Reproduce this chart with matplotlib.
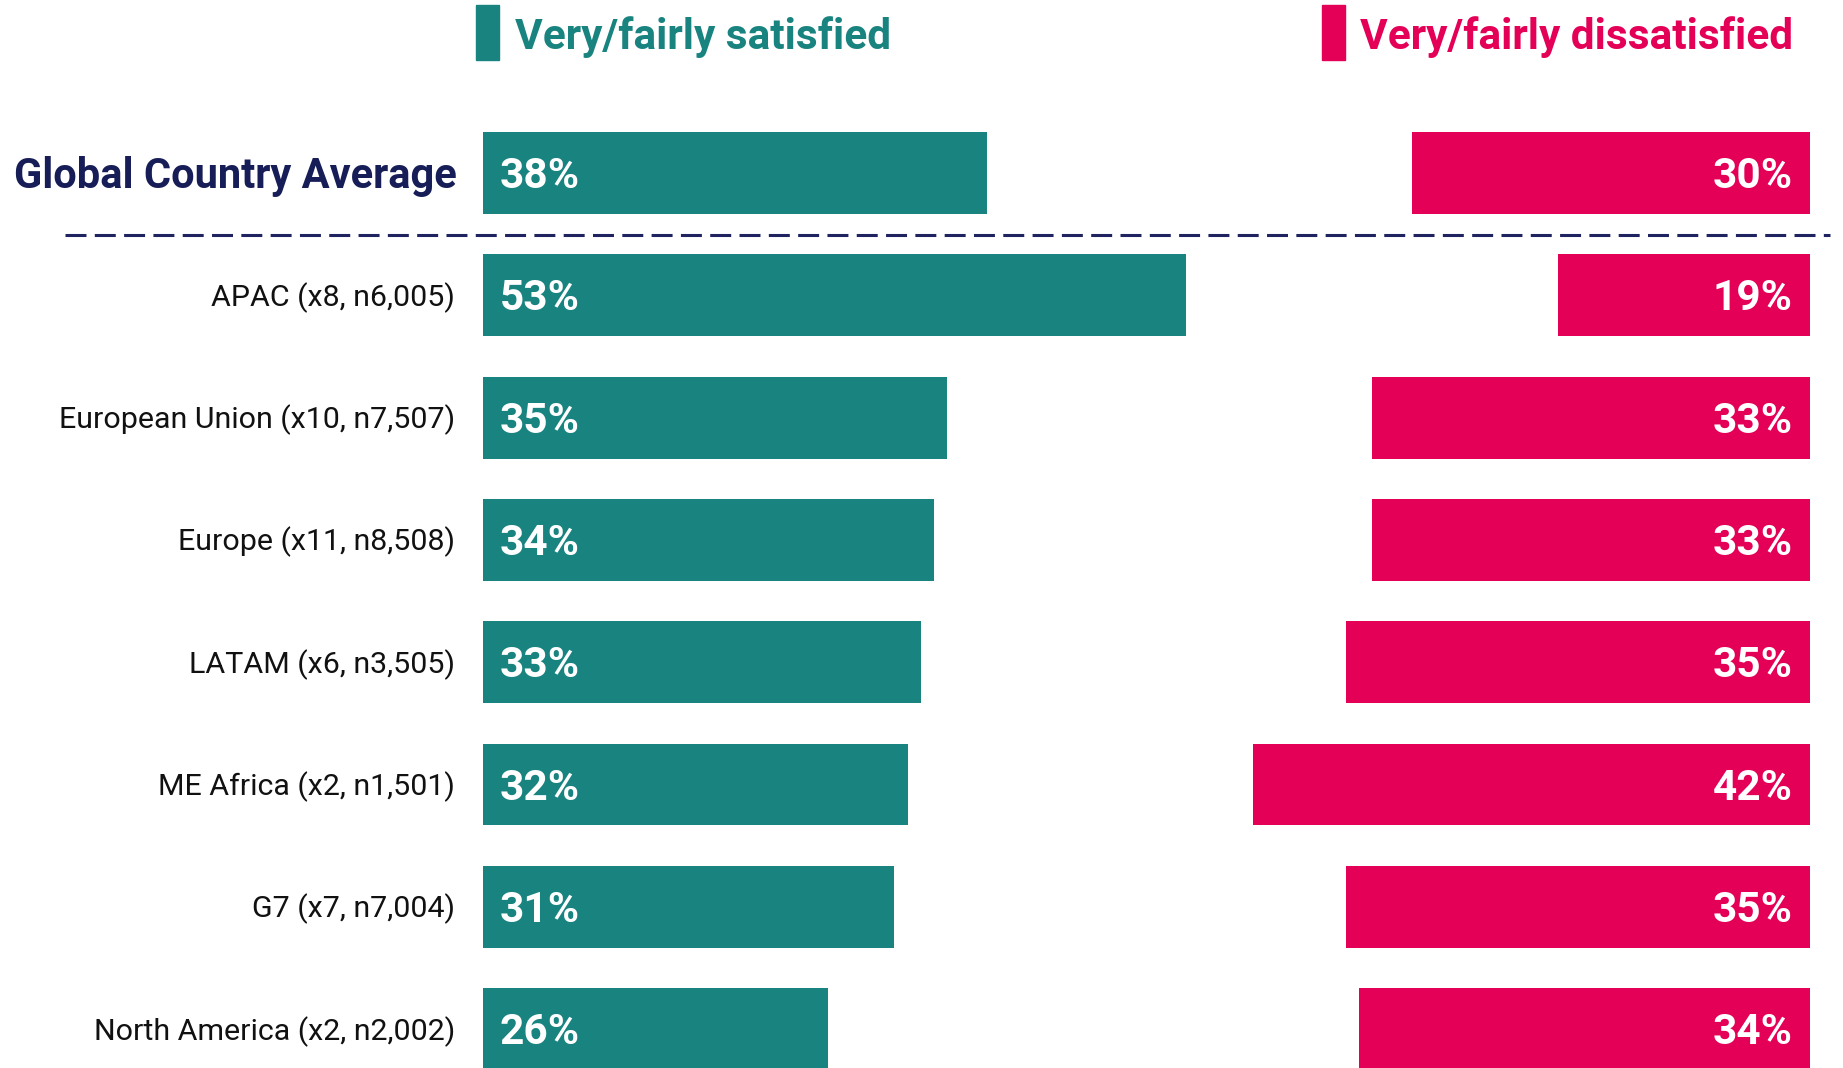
import matplotlib
matplotlib.use("Agg")
import matplotlib.pyplot as plt
from matplotlib.transforms import ScaledTranslation, blended_transform_factory
from matplotlib.patches import Rectangle

# ---- data ----
categories = ["Global Country Average", "APAC (x8, n6,005)", "European Union (x10, n7,507)",
              "Europe (x11, n8,508)", "LATAM (x6, n3,505)", "ME Africa (x2, n1,501)",
              "G7 (x7, n7,004)", "North America (x2, n2,002)"]
satisfied = [38, 53, 35, 34, 33, 32, 31, 26]
dissatisfied = [30, 19, 33, 33, 35, 42, 35, 34]
legend_labels = ["Very/fairly satisfied", "Very/fairly dissatisfied"]

TEAL = "#198380"
RED = "#E40056"
NAVY = "#161D57"

W, H, DPI = 1843, 1068, 100
fig = plt.figure(figsize=(W / DPI, H / DPI), dpi=DPI)
fig.patch.set_facecolor("white")
renderer = fig.canvas.get_renderer()

left_px, right_px = 483, 1810
ax = fig.add_axes([left_px / W, 0, (right_px - left_px) / W, 1])
pitch, first = 122.3, 173
ax.set_xlim(0, 100)
ax.set_ylim((H - first) / pitch, -first / pitch)
ax.axis("off")

ys = list(range(len(categories)))
ax.barh(ys, satisfied, height=0.67, color=TEAL, left=0)
ax.barh(ys, dissatisfied, height=0.67, color=RED, left=[100 - d for d in dissatisfied])

def shift(px_x, px_y):
    return ax.transData + ScaledTranslation(px_x / DPI, px_y / DPI, fig.dpi_scale_trans)

def fit_size(text, target_px, max_size, **kw):
    t = fig.text(0, 0, text, fontsize=max_size, **kw)
    w = t.get_window_extent(renderer).width
    t.remove()
    return min(max_size, max_size * target_px / w)

cat_size = fit_size("European Union (x10, n7,507)", 395, 22.5, family="Roboto")
glob_size = fit_size("Global Country Average", 443, 30.5, family="Roboto", fontweight="bold")

for i, (cat, s, d) in enumerate(zip(categories, satisfied, dissatisfied)):
    if i == 0:
        ax.text(0, i, cat, ha="right", va="baseline", fontsize=glob_size, fontweight="bold",
                family="Roboto", color=NAVY, transform=shift(-26, -0.355 * glob_size / 0.72))
    else:
        ax.text(0, i, cat, ha="right", va="baseline", fontsize=cat_size,
                family="Roboto", color="#111111", transform=shift(-28, -0.355 * cat_size / 0.72))
    ax.text(0, i, f"{s}%", ha="left", va="baseline", fontsize=30.5, fontweight="bold",
            family="Roboto", color="white", transform=shift(16.5, -15))
    ax.text(100, i, f"{d}%", ha="right", va="baseline", fontsize=30.5, fontweight="bold",
            family="Roboto", color="white", transform=shift(-17.5, -15))

# dashed separator between global and regions
tr = blended_transform_factory(ax.transAxes, ax.transData)
sep_y = 0.507
ax.plot([(65 - left_px) / (right_px - left_px), (1830 - left_px) / (right_px - left_px)],
        [sep_y, sep_y], transform=tr, color="#1F2460", lw=2.2, clip_on=False,
        dashes=(15.1 / 2.2, 6.0 / 2.2), dash_capstyle="butt")

# legend (custom, top)
for (sx, tx, col, lab) in [(476, 515, TEAL, legend_labels[0]), (1322, 1360, RED, legend_labels[1])]:
    fig.patches.append(Rectangle((sx / W, 1 - 60 / H), 23 / W, 55 / H, transform=fig.transFigure,
                                 color=col))
    fig.text(tx / W, 1 - 49 / H, lab, ha="left", va="baseline", fontsize=30.5,
             fontweight="bold", family="Roboto", color=col)

fig.savefig("out.png", dpi=DPI, facecolor="white")
